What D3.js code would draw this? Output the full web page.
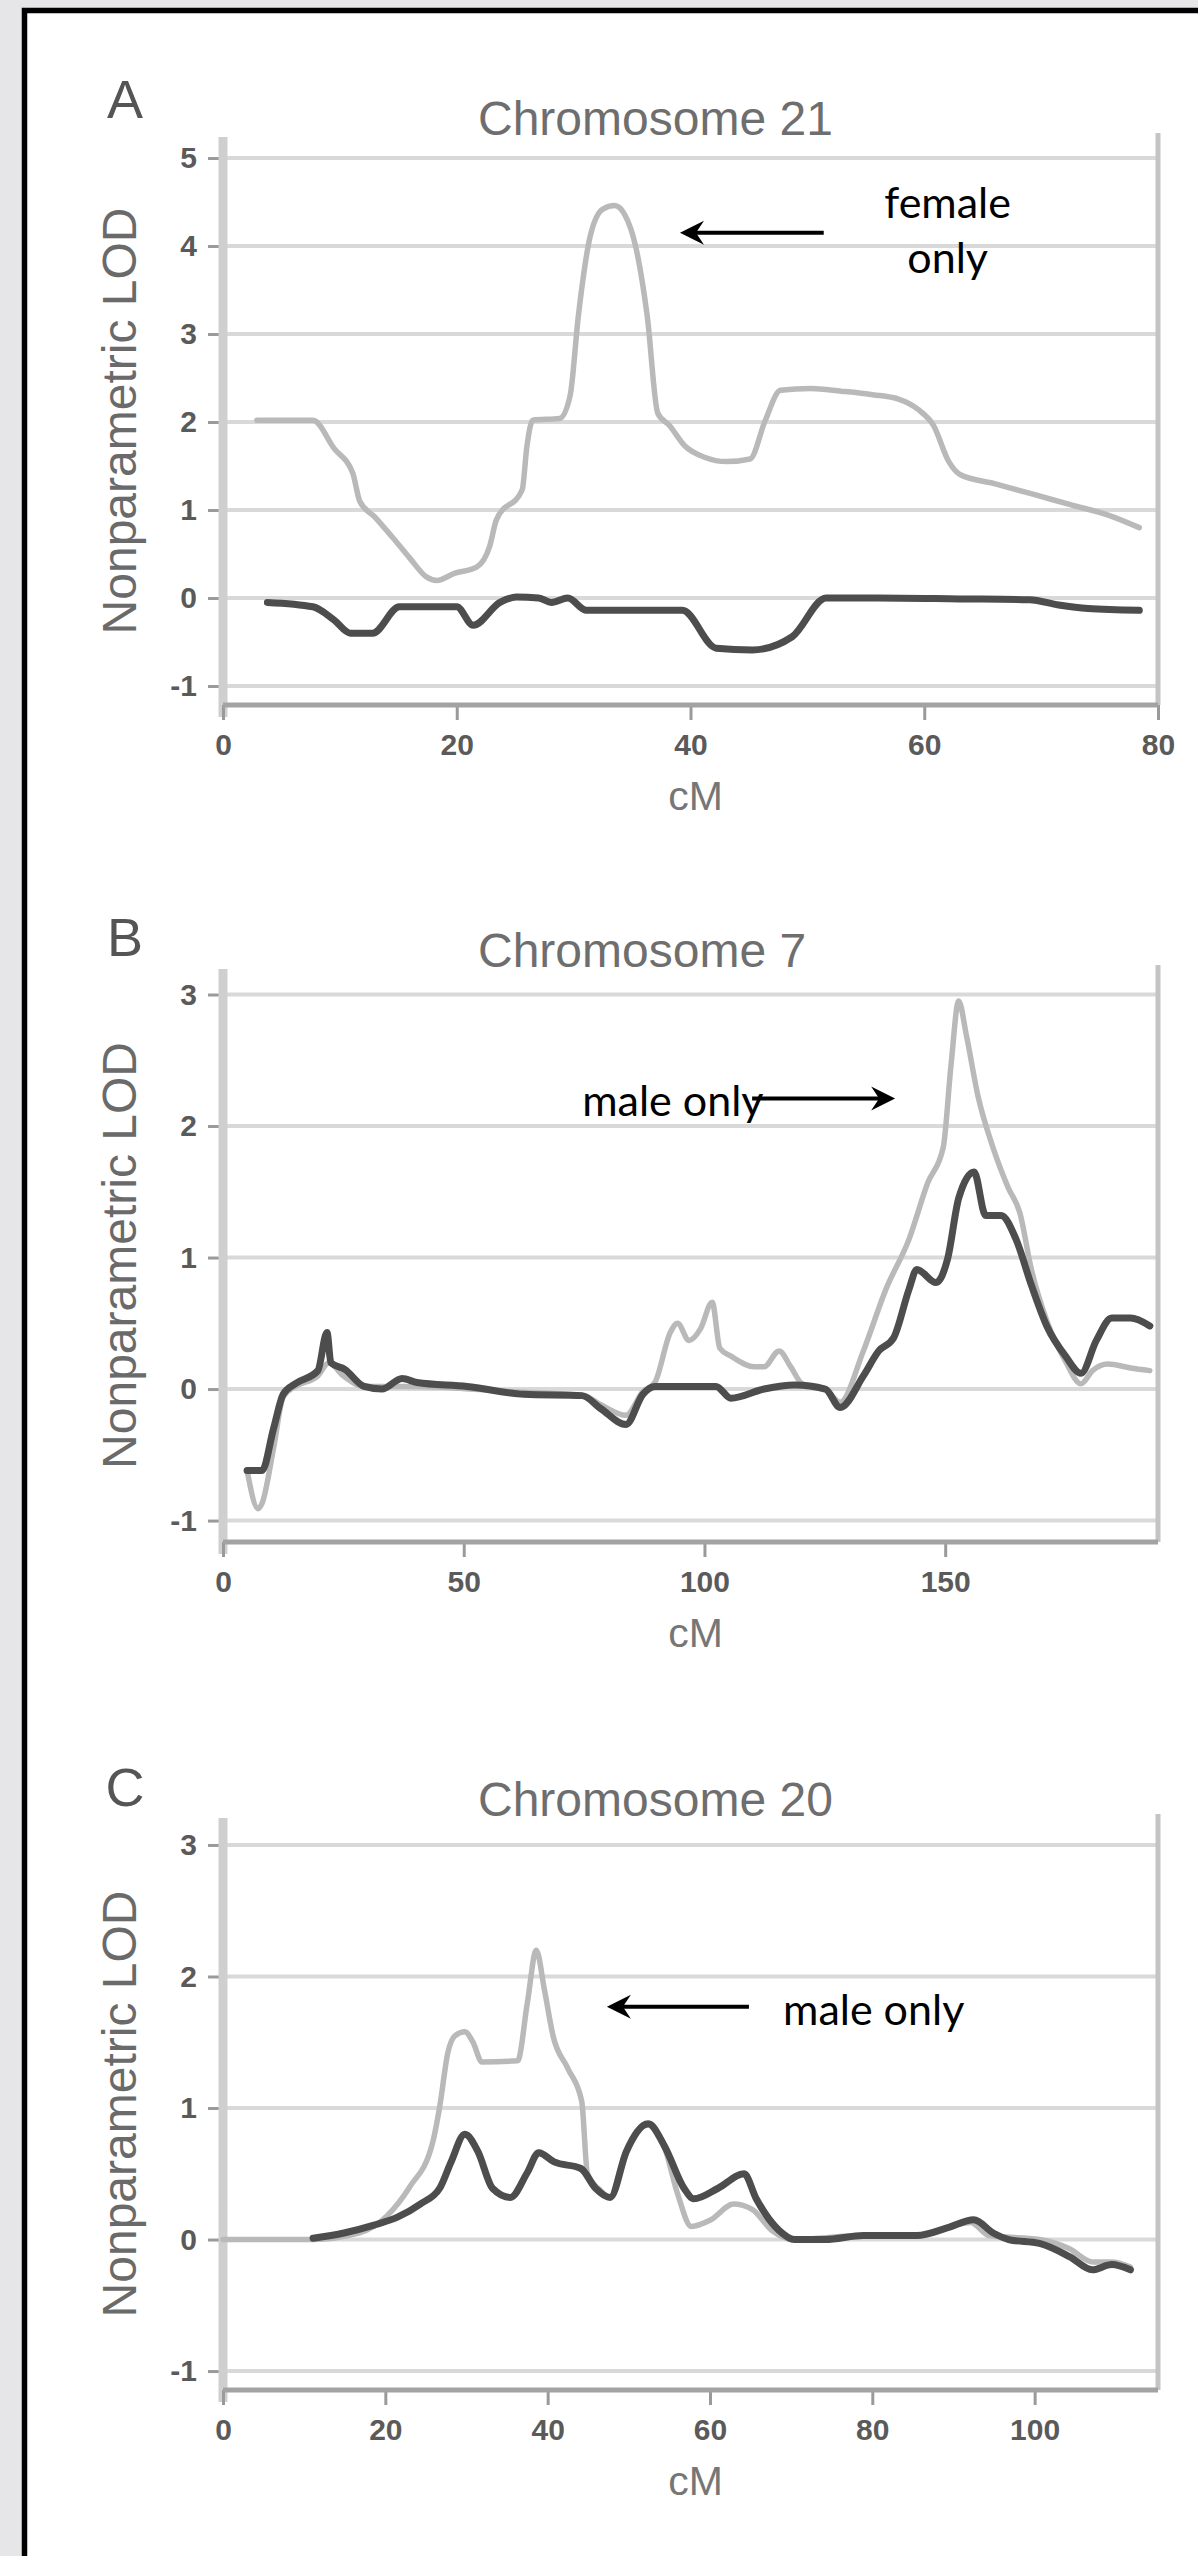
<!DOCTYPE html>
<html>
<head>
<meta charset="utf-8">
<script src="https://cdn.jsdelivr.net/npm/d3@7"></script>
<style>
  html, body { margin: 0; padding: 0; background: #e6e6e8; }
  svg { display: block; }
</style>
</head>
<body>
<svg id="chart" width="1198" height="2556"></svg>
<script>
// ---------------- DATA ----------------
const panelLetters = ["A", "B", "C"];
const panelTitles = ["Chromosome 21", "Chromosome 7", "Chromosome 20"];
const xAxisLabel = "cM";
const yAxisLabel = "Nonparametric LOD";

const xTicksA = [0, 20, 40, 60, 80];
const xTicksB = [0, 50, 100, 150];
const xTicksC = [0, 20, 40, 60, 80, 100];
const yTicksA = [-1, 0, 1, 2, 3, 4, 5];
const yTicksB = [-1, 0, 1, 2, 3];
const yTicksC = [-1, 0, 1, 2, 3];

// Chromosome 21: [cM, LOD]
const chr21Light = [[2.9,2.02],[7.7,2.02],[9.5,1.7],[11.1,1.42],[11.7,1.1],[13.0,0.92],[14.5,0.69],[16.0,0.45],[17.4,0.24],[18.3,0.2],[19.8,0.28],[21.7,0.35],[22.8,0.58],[23.4,0.89],[25.6,1.23],[26.0,1.72],[26.5,2.02],[28.8,2.04],[29.7,2.3],[30.4,3.2],[31.4,4.1],[32.5,4.42],[33.5,4.46],[34.4,4.35],[35.3,4.0],[36.3,3.2],[37.2,2.1],[38.2,1.96],[39.5,1.73],[41.2,1.6],[43.1,1.55],[45.1,1.58],[46.4,2.02],[47.7,2.36],[50.3,2.38],[52.9,2.35],[55.6,2.31],[57.8,2.26],[59.5,2.14],[60.8,1.96],[62.1,1.55],[63.1,1.4],[66,1.3],[69.3,1.18],[72.5,1.06],[75.8,0.94],[78.4,0.8]];
const chr21Dark = [[3.8,-0.05],[7.7,-0.1],[9.5,-0.25],[10.9,-0.4],[12.8,-0.4],[15.1,-0.1],[20,-0.1],[21.4,-0.31],[23.7,-0.05],[25.1,0.01],[27,0.0],[28.1,-0.05],[29.5,0.0],[31.1,-0.14],[35,-0.14],[39.3,-0.14],[42.2,-0.57],[45.3,-0.59],[48.7,-0.44],[51.6,0.0],[56,0.0],[63,-0.01],[69,-0.02],[71.5,-0.08],[74,-0.12],[78.4,-0.14]];

// Chromosome 7
const chr7Light = [[5.0,-0.62],[7.3,-0.91],[8.1,-0.87],[10.5,-0.45],[12.5,-0.06],[15,0.02],[19.7,0.1],[22,0.2],[25,0.1],[29.3,0.02],[40,0.02],[60,-0.02],[75,-0.05],[78.5,-0.12],[83.7,-0.2],[87.2,-0.02],[89.7,0.05],[92.9,0.43],[94.4,0.5],[96.8,0.37],[99.2,0.46],[101.6,0.66],[103.2,0.31],[105.5,0.25],[110.3,0.17],[112.4,0.17],[115.5,0.29],[117.9,0.17],[120.3,0.04],[125.1,0.0],[128.2,-0.1],[133,0.29],[137.7,0.76],[142.5,1.14],[146.4,1.57],[149.6,1.84],[151.2,2.46],[152.8,2.95],[154.4,2.69],[156.8,2.23],[159.9,1.84],[163.1,1.53],[165.5,1.34],[167.9,0.91],[171.1,0.52],[175,0.21],[178.2,0.04],[180.6,0.14],[183.8,0.19],[188.5,0.16],[192.5,0.14]];
const chr7Dark = [[5.0,-0.62],[8.1,-0.62],[10.5,-0.3],[12.5,-0.04],[15,0.04],[19.7,0.14],[21.6,0.43],[22.4,0.2],[25.3,0.15],[29.3,0.02],[33,0.0],[37.2,0.08],[40.3,0.05],[50.7,0.02],[62.5,-0.04],[74.6,-0.05],[78.5,-0.15],[83.7,-0.27],[87.2,-0.04],[89.7,0.02],[102.4,0.02],[105.5,-0.07],[112.4,0.0],[118.7,0.03],[125.1,0.0],[128.2,-0.14],[133,0.1],[136.2,0.29],[139.3,0.39],[142.5,0.76],[144.1,0.91],[148.1,0.81],[150.5,0.99],[152.8,1.45],[156,1.65],[158.4,1.32],[161.6,1.32],[164.7,1.14],[167.9,0.79],[171.1,0.48],[175,0.25],[178.2,0.12],[181.4,0.37],[184.6,0.54],[188.5,0.54],[192.5,0.48]];

// Chromosome 20
const chr20Light = [[0,0],[11.1,0],[16.8,0.05],[20.2,0.18],[23,0.4],[25.8,0.73],[26.7,1.01],[27.7,1.42],[28.6,1.55],[29.8,1.58],[30.8,1.5],[31.9,1.35],[36.3,1.36],[37.5,1.8],[38.6,2.2],[39.6,1.9],[40.7,1.54],[42.5,1.3],[44.2,1.05],[44.9,0.5],[46.4,0.38],[47.7,0.32],[49.7,0.67],[52.3,0.87],[54.4,0.7],[56,0.35],[57.7,0.1],[60.1,0.15],[62.9,0.27],[65.2,0.23],[67.6,0.07],[70.4,0],[78.9,0.03],[85.5,0.03],[92.1,0.13],[94.4,0.03],[100.6,0],[104.3,-0.07],[107.1,-0.17],[109.5,-0.17],[111.8,-0.21]];
const chr20Dark = [[11.1,0.01],[14.9,0.05],[18.6,0.11],[21.5,0.17],[24.3,0.27],[26.7,0.39],[28.1,0.59],[29.8,0.8],[31.4,0.67],[33.2,0.39],[35.4,0.32],[37.5,0.51],[38.9,0.66],[40.8,0.59],[44.1,0.54],[45.9,0.39],[47.7,0.32],[49.7,0.67],[52.4,0.88],[54.4,0.71],[56.8,0.39],[58.0,0.31],[61,0.39],[64.2,0.5],[65.7,0.31],[68.5,0.07],[70.4,0],[74.2,0],[78.9,0.03],[85.5,0.03],[89.3,0.09],[92.5,0.15],[94.9,0.05],[96.8,0],[100.6,-0.03],[104.3,-0.13],[107.1,-0.23],[109.5,-0.19],[111.8,-0.23]];

// annotations: text anchor & arrow in data coordinates
const annotA = { lines: ["female", "only"], textX: 62.0, textY: [4.32, 3.69], anchor: "middle", arrowFrom: [51.4, 4.15], arrowTo: [39.1, 4.15] };
const annotB = { lines: ["male only"], textX: 74.6, textY: [2.08], anchor: "start", arrowFrom: [109.9, 2.21], arrowTo: [139.6, 2.21] };
const annotC = { lines: ["male only"], textX: 69.0, textY: [1.63], anchor: "start", arrowFrom: [64.8, 1.77], arrowTo: [47.3, 1.77] };

// ---------------- LAYOUT ----------------
const svg = d3.select("#chart");
const W = 1198, H = 2556;

// page frame
svg.append("rect").attr("x", 0).attr("y", 0).attr("width", W).attr("height", H).attr("fill", "#e6e6e8");
svg.append("rect").attr("x", 24.5).attr("y", 10.5).attr("width", W + 40).attr("height", H + 40)
  .attr("fill", "#ffffff").attr("stroke", "#000").attr("stroke-width", 5.5);

const plotLeft = 223, plotRight = 1158;

const panels = [
  { letter: panelLetters[0], title: panelTitles[0], xMax: 80, xTicks: xTicksA, yTicks: yTicksA,
    top: 137, bottom: 705, yDom: [-1.216, 5.239], light: chr21Light, dark: chr21Dark, annot: annotA, letterY: 118 },
  { letter: panelLetters[1], title: panelTitles[1], xMax: 194.2, xTicks: xTicksB, yTicks: yTicksB,
    top: 969, bottom: 1542, yDom: [-1.163, 3.194], light: chr7Light, dark: chr7Dark, annot: annotB, letterY: 956 },
  { letter: panelLetters[2], title: panelTitles[2], xMax: 115.2, xTicks: xTicksC, yTicks: yTicksC,
    top: 1818, bottom: 2390, yDom: [-1.144, 3.205], light: chr20Light, dark: chr20Dark, annot: annotC, letterY: 1806 }
];

const sansFont = "'Liberation Sans', Arial, Helvetica, sans-serif";
const annotFont = "'Gill Sans', Lato, 'Open Sans', sans-serif";

panels.forEach(p => {
  const x = d3.scaleLinear().domain([0, p.xMax]).range([plotLeft, plotRight]);
  const y = d3.scaleLinear().domain(p.yDom).range([p.bottom, p.top]);
  const g = svg.append("g");

  // gridlines
  g.append("g").selectAll("line").data(p.yTicks).join("line")
    .attr("x1", plotLeft).attr("x2", plotRight)
    .attr("y1", d => y(d)).attr("y2", d => y(d))
    .attr("stroke", "#d9d9d9").attr("stroke-width", 4);

  // right border
  g.append("line").attr("x1", plotRight).attr("x2", plotRight)
    .attr("y1", p.top - 4).attr("y2", p.bottom)
    .attr("stroke", "#c4c4c4").attr("stroke-width", 5);

  // y axis
  const yAxis = d3.axisLeft(y).tickValues(p.yTicks).tickSize(15).tickPadding(11).tickFormat(d3.format("d"));
  const ya = g.append("g").attr("transform", `translate(${plotLeft},0)`).call(yAxis);
  ya.select(".domain").remove();
  ya.selectAll(".tick line").attr("stroke", "#9a9a9a").attr("stroke-width", 3);
  ya.selectAll(".tick text").attr("font-family", sansFont).attr("font-size", 30)
    .attr("font-weight", "bold").attr("fill", "#5a5a5a").text(d => d < 0 ? "-" + Math.abs(d) : d);
  g.append("line").attr("x1", plotLeft).attr("x2", plotLeft)
    .attr("y1", p.top).attr("y2", p.bottom + 12)
    .attr("stroke", "#cfcfcf").attr("stroke-width", 9);

  // x axis
  const xAxis = d3.axisBottom(x).tickValues(p.xTicks).tickSize(15).tickPadding(14).tickFormat(d3.format("d"));
  const xa = g.append("g").attr("transform", `translate(0,${p.bottom})`).call(xAxis);
  xa.select(".domain").remove();
  xa.selectAll(".tick line").attr("stroke", "#9a9a9a").attr("stroke-width", 3);
  xa.selectAll(".tick text").attr("font-family", sansFont).attr("font-size", 30)
    .attr("font-weight", "bold").attr("fill", "#5a5a5a");
  g.append("line").attr("x1", plotLeft).attr("x2", plotRight)
    .attr("y1", p.bottom).attr("y2", p.bottom)
    .attr("stroke", "#a3a3a3").attr("stroke-width", 5);

  // series
  const line = d3.line().curve(d3.curveMonotoneX).x(d => x(d[0])).y(d => y(d[1]));
  g.append("path").datum(p.light).attr("d", line)
    .attr("fill", "none").attr("stroke", "#b9b9b9").attr("stroke-width", 5.5)
    .attr("stroke-linejoin", "round").attr("stroke-linecap", "round");
  g.append("path").datum(p.dark).attr("d", line)
    .attr("fill", "none").attr("stroke", "#4d4d4d").attr("stroke-width", 7)
    .attr("stroke-linejoin", "round").attr("stroke-linecap", "round");

  // title
  g.append("text").attr("x", 478).attr("y", p.top - 2)
    .attr("font-family", sansFont).attr("font-size", 48).attr("fill", "#6e6e6e")
    .text(p.title);

  // panel letter
  g.append("text").attr("x", 125).attr("y", p.letterY).attr("text-anchor", "middle")
    .attr("font-family", sansFont).attr("font-size", 54).attr("fill", "#555")
    .text(p.letter);

  // y label
  const cy = (p.top + p.bottom) / 2;
  g.append("text").attr("transform", `translate(136,${cy}) rotate(-90)`)
    .attr("text-anchor", "middle")
    .attr("font-family", sansFont).attr("font-size", 48).attr("fill", "#6a6a6a")
    .text(yAxisLabel);

  // x label
  g.append("text").attr("x", (plotLeft + plotRight) / 2 + 5).attr("y", p.bottom + 105)
    .attr("text-anchor", "middle")
    .attr("font-family", sansFont).attr("font-size", 41).attr("fill", "#767676")
    .text(xAxisLabel);

  // annotation
  const a = p.annot;
  a.lines.forEach((t, i) => {
    g.append("text").attr("x", x(a.textX)).attr("y", y(a.textY[i]))
      .attr("text-anchor", a.anchor)
      .attr("font-family", annotFont).attr("font-size", 43).attr("fill", "#000")
      .text(t);
  });
  const x0 = x(a.arrowFrom[0]), y0 = y(a.arrowFrom[1]);
  const x1 = x(a.arrowTo[0]), y1 = y(a.arrowTo[1]);
  const dir = Math.sign(x1 - x0);
  g.append("line").attr("x1", x0).attr("y1", y0).attr("x2", x1 - dir * 12).attr("y2", y1)
    .attr("stroke", "#000").attr("stroke-width", 4);
  g.append("path")
    .attr("d", `M${x1},${y1} L${x1 - dir * 24},${y1 - 12} L${x1 - dir * 16},${y1} L${x1 - dir * 24},${y1 + 12} Z`)
    .attr("fill", "#000");
});
</script>
</body>
</html>
